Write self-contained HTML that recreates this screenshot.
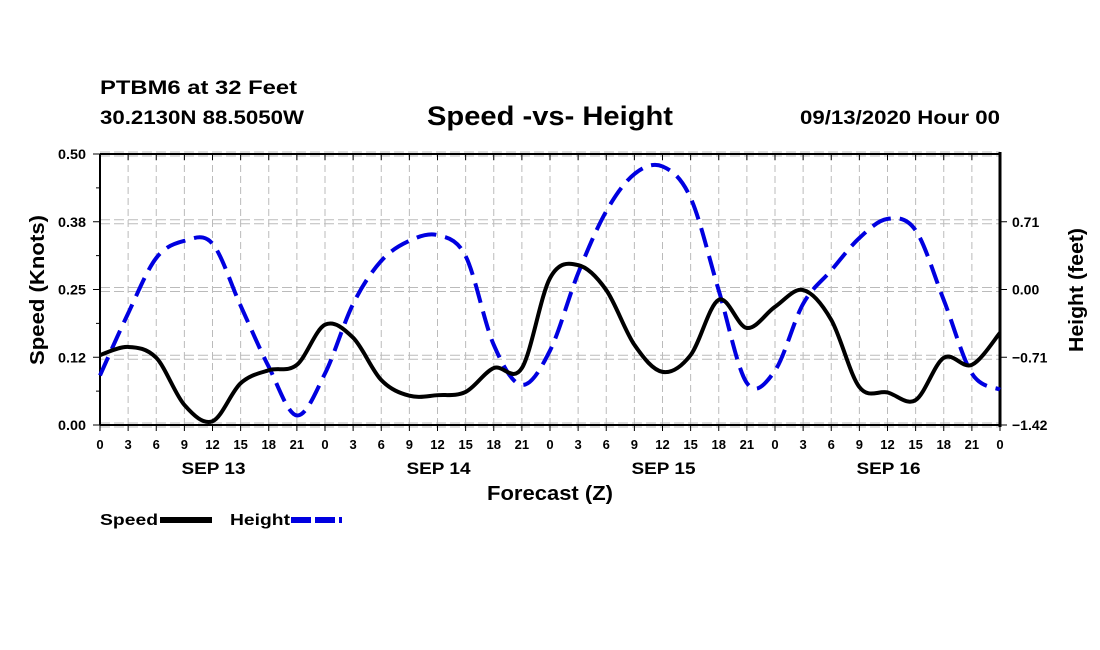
<!DOCTYPE html>
<html><head><meta charset="utf-8"><style>
html,body{margin:0;padding:0;background:#fff;}
svg{display:block;font-family:"Liberation Sans",Arial,sans-serif;font-weight:bold;}
</style></head><body>
<svg id="chart" width="1100" height="650" xmlns="http://www.w3.org/2000/svg">
<text x="100" y="94" font-size="19" textLength="197" lengthAdjust="spacingAndGlyphs">PTBM6 at 32 Feet</text>
<text x="100" y="124" font-size="19" textLength="204" lengthAdjust="spacingAndGlyphs">30.2130N 88.5050W</text>
<text x="427" y="125" font-size="27" textLength="246" lengthAdjust="spacingAndGlyphs">Speed -vs- Height</text>
<text x="800" y="124" font-size="19" textLength="200" lengthAdjust="spacingAndGlyphs">09/13/2020 Hour 00</text>
<g id="grid"></g>
<g id="axes"></g>
<g id="series"></g>
<text x="487" y="500" font-size="20" textLength="126" lengthAdjust="spacingAndGlyphs">Forecast (Z)</text>
<text transform="translate(44,365) rotate(-90)" font-size="20" textLength="150" lengthAdjust="spacingAndGlyphs">Speed (Knots)</text>
<text transform="translate(1083,352) rotate(-90)" font-size="20" textLength="124" lengthAdjust="spacingAndGlyphs">Height (feet)</text>
<g>
<g><text x="100" y="525" font-size="16" textLength="58" lengthAdjust="spacingAndGlyphs">Speed</text><line x1="160" y1="520" x2="212" y2="520" stroke="#000" stroke-width="6"/></g>
<g><text x="230" y="525" font-size="16" textLength="60" lengthAdjust="spacingAndGlyphs">Height</text><line x1="291" y1="520" x2="342" y2="520" stroke="#0000e0" stroke-width="6" stroke-dasharray="20,4"/></g>
</g>
</svg>
<script>
const hours = [0,3,6,9,12,15,18,21,24,27,30,33,36,39,42,45,48,51,54,57,60,63,66,69,72,75,78,81,84,87,90,93,96];
const speedValues = [0.129,0.144,0.124,0.037,0.007,0.077,0.101,0.111,0.185,0.161,0.083,0.054,0.055,0.061,0.105,0.105,0.271,0.295,0.249,0.148,0.098,0.129,0.231,0.179,0.218,0.249,0.194,0.070,0.060,0.046,0.124,0.111,0.170];
const heightValues = [-0.90,-0.25,0.33,0.51,0.48,-0.17,-0.81,-1.32,-0.88,-0.15,0.30,0.51,0.57,0.35,-0.58,-1.00,-0.64,0.17,0.82,1.21,1.29,0.96,-0.01,-0.98,-0.85,-0.15,0.20,0.54,0.74,0.62,-0.11,-0.88,-1.05];
const leftTicks = [0,0.125,0.25,0.375,0.5];
const leftTickLabels = ["0.00","0.12","0.25","0.38","0.50"];
const rightTicks = [-1.42,-0.71,0,0.71];
const rightTickLabels = ["\u22121.42","\u22120.71","0.00","0.71"];
const hourLabels = ["0","3","6","9","12","15","18","21"];
const dayLabels = ["SEP 13","SEP 14","SEP 15","SEP 16"];

const X0=100,X1=1000,Y0=425,Y1=154;
const xs=h=>X0+(h-0)/96*(X1-X0);
const yL=v=>Y0-(v-0)/0.5*(Y0-Y1);
const yR=v=>Y0-(v+1.42)/2.84*(Y0-Y1);
const NS="http://www.w3.org/2000/svg";
function mk(tag,attrs,parent){const e=document.createElementNS(NS,tag);for(const k in attrs)e.setAttribute(k,attrs[k]);parent.appendChild(e);return e;}
const grid=document.getElementById('grid'),axes=document.getElementById('axes'),series=document.getElementById('series');

for(let h=3;h<96;h+=3){
  const l=mk('line',{x1:xs(h),y1:Y1,x2:xs(h),y2:Y0,stroke:'#bbb','stroke-width':1,'stroke-dasharray':'7,4'},grid);
  
  
}
leftTicks.forEach(v=>{
  [-2,2].forEach(o=>{
    const l=mk('line',{x1:X0,y1:yL(v)+o,x2:X1,y2:yL(v)+o,stroke:'#bbb','stroke-width':1,'stroke-dasharray':'10,4'},grid);
    
    
  });
});
mk('line',{x1:X0,y1:Y1,x2:X1,y2:Y1,stroke:'#000','stroke-width':2},axes);
mk('line',{x1:X0,y1:Y0,x2:X1,y2:Y0,stroke:'#000','stroke-width':2},axes);
mk('line',{x1:X0,y1:Y1,x2:X0,y2:Y0,stroke:'#000','stroke-width':2},axes);
mk('line',{x1:X1,y1:Y1-2,x2:X1,y2:Y0+2,stroke:'#000','stroke-width':3},axes);
for(let i=0;i<=32;i++){
  const h=i*3,x=xs(h);
  mk('line',{x1:x,y1:Y0,x2:x,y2:Y0+6,stroke:'#000','stroke-width':1},axes);
  mk('line',{x1:x,y1:Y1,x2:x,y2:Y1+6,stroke:'#000','stroke-width':1},axes);
  const t=mk('text',{x:x,y:449,'font-size':13,'text-anchor':'middle'},axes);
  t.textContent=hourLabels[i%8];
  
  
}
dayLabels.forEach((d,i)=>{
  const t=mk('text',{x:xs(12+24*i)-31,y:474,'font-size':17,textLength:64,lengthAdjust:'spacingAndGlyphs'},axes);
  t.textContent=d;
  
  
});
leftTicks.forEach((v,i)=>{
  mk('line',{x1:X0-7,y1:yL(v),x2:X0,y2:yL(v),stroke:'#000','stroke-width':1},axes);
  const t=mk('text',{x:58,y:yL(v)+5,'font-size':14,textLength:28,lengthAdjust:'spacingAndGlyphs'},axes);
  t.textContent=leftTickLabels[i];
  
  
});
for(let v=0.0625;v<0.5;v+=0.125){mk('line',{x1:X0-4,y1:yL(v),x2:X0,y2:yL(v),stroke:'#000','stroke-width':1},axes);}
rightTicks.forEach((v,i)=>{
  mk('line',{x1:X1,y1:yR(v),x2:X1+7,y2:yR(v),stroke:'#000','stroke-width':1},axes);
  const t=mk('text',{x:1012,y:yR(v)+5,'font-size':14},axes);
  t.textContent=rightTickLabels[i];
  
  
});
function path(vals,yf){
  const p=hours.map((h,i)=>[xs(h),yf(vals[i])]);
  let d='M'+p[0][0]+','+p[0][1];
  for(let i=0;i<p.length-1;i++){
    const a=p[Math.max(i-1,0)],b=p[i],c=p[i+1],e=p[Math.min(i+2,p.length-1)];
    d+=' C'+(b[0]+(c[0]-a[0])/6)+','+(b[1]+(c[1]-a[1])/6)+' '+(c[0]-(e[0]-b[0])/6)+','+(c[1]-(e[1]-b[1])/6)+' '+c[0]+','+c[1];
  }
  return d;
}
const hp=mk('path',{d:path(heightValues,yR),fill:'none',stroke:'#0000e0','stroke-width':4,'stroke-dasharray':'20,9'},series);


const sp=mk('path',{d:path(speedValues,yL),fill:'none',stroke:'#000','stroke-width':4},series);


</script>
</body></html>
